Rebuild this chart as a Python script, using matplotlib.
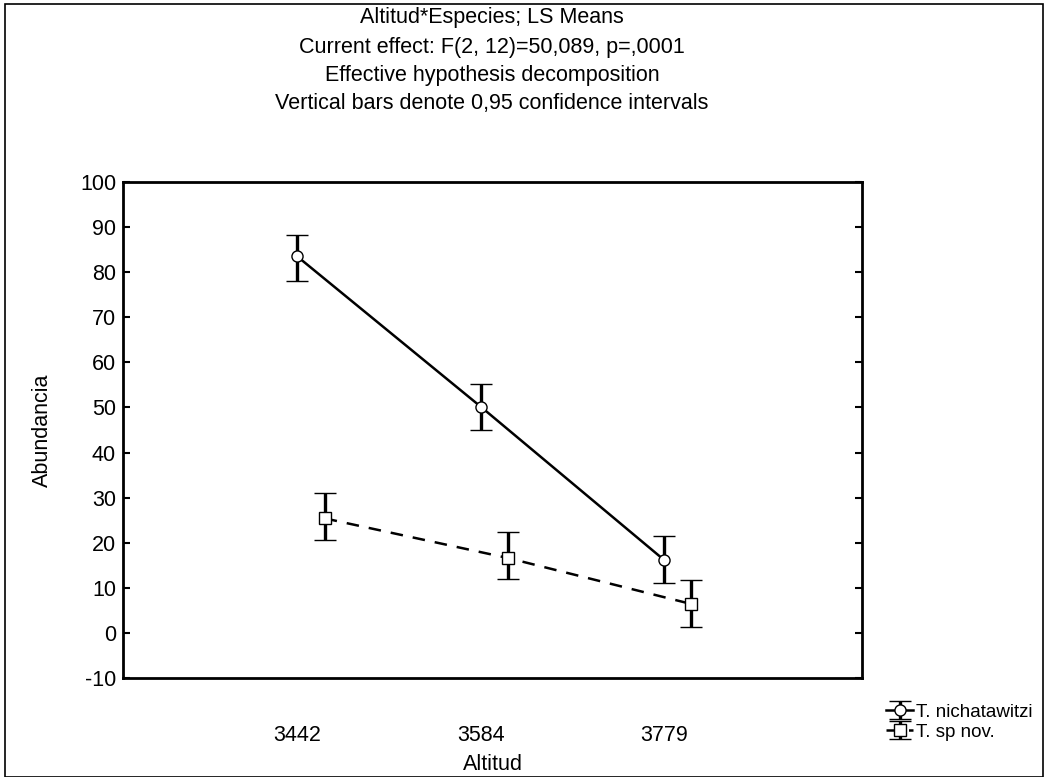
import matplotlib
matplotlib.use("Agg")
import matplotlib.pyplot as plt
from matplotlib.patches import Rectangle
import numpy as np

plt.rcParams['font.family'] = ['Liberation Sans', 'DejaVu Sans']
plt.rcParams['axes.unicode_minus'] = False

categories = ["3442", "3584", "3779"]
series_names = ["T. nichatawitzi", "T. sp nov."]
means_nich = [83.5, 50.2, 16.2]
lower_nich = [78.0, 45.0, 11.1]
upper_nich = [88.2, 55.3, 21.4]
means_sp = [25.4, 16.6, 6.4]
lower_sp = [20.5, 11.9, 1.4]
upper_sp = [31.0, 22.3, 11.8]

titles = ["Altitud*Especies; LS Means",
          "Current effect: F(2, 12)=50,089, p=,0001",
          "Effective hypothesis decomposition",
          "Vertical bars denote 0,95 confidence intervals"]
yticks = [-10, 0, 10, 20, 30, 40, 50, 60, 70, 80, 90, 100]

FS = 15.5

fig = plt.figure(figsize=(10.48, 7.77), dpi=100)
ax = fig.add_axes([123/1048, 1-678/777, (862-123)/1048, (678-182)/777])

x = np.arange(len(categories))
off = 0.15

def yerr(m, lo, hi):
    m = np.array(m); return [m - np.array(lo), np.array(hi) - m]

e1 = ax.errorbar(x, means_nich, yerr=yerr(means_nich, lower_nich, upper_nich),
                 color='black', lw=1.8, ls='-', marker='o', ms=8, mfc='white',
                 mec='black', mew=1.0, ecolor='black', elinewidth=2.4,
                 capsize=8, capthick=2.6, label=series_names[0], zorder=3)
e2 = ax.errorbar(x + off, means_sp, yerr=yerr(means_sp, lower_sp, upper_sp),
                 color='black', lw=1.8, ls=(0, (5, 4)), marker='s', ms=8, mfc='white',
                 mec='black', mew=1.0, ecolor='black', elinewidth=2.4,
                 capsize=8, capthick=2.6, label=series_names[1], zorder=3)

ax.set_xlim(-0.95, 3.08)
ax.set_ylim(-10, 100)
ax.set_xticks(x)
ax.set_xticklabels(categories)
ax.set_yticks(yticks)
ax.tick_params(axis='x', length=0, labelsize=FS, pad=34)
ax.tick_params(axis='y', direction='in', length=5, width=1.5, labelsize=FS,
               right=True, pad=5)
for s in ax.spines.values():
    s.set_linewidth(2)

ax.set_ylabel("Abundancia", fontsize=FS, va='center')
ax.yaxis.set_label_coords((42-123)/739, 0.5)
ax.set_xlabel("Altitud", fontsize=FS, va='center')
ax.xaxis.set_label_coords(0.5, -(764-678)/496)

ycen = [18, 47, 75, 104]
for t, yy in zip(titles, ycen):
    fig.text(492/1048, 1 - yy/777, t, ha='center', va='center', fontsize=FS)

leg = fig.legend(handles=[e1, e2], labels=series_names, loc='center left',
                 bbox_to_anchor=(877/1048, 1 - 722/777), frameon=False,
                 fontsize=13.5, handlelength=1.4, handletextpad=0.2,
                 labelspacing=0.15, borderpad=0)

fig.patches.append(Rectangle((5/1048, 0.0), 1038/1048, 1 - 4/777,
                             transform=fig.transFigure, fill=False,
                             edgecolor='black', lw=1.2))

fig.savefig("out.png", dpi=100)
